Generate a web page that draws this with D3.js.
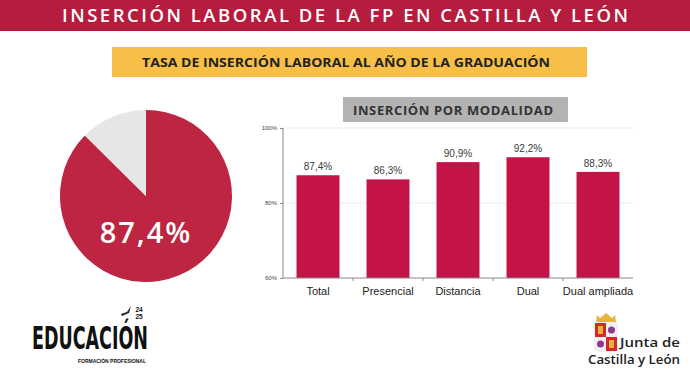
<!DOCTYPE html>
<html><head><meta charset="utf-8">
<script src="https://cdn.jsdelivr.net/npm/d3@7"></script>
<style>html,body{margin:0;padding:0;background:#fff;}svg{display:block;}</style>
</head><body>
<script>
const categories = ["Total","Presencial","Distancia","Dual","Dual ampliada"];
const values = [87.4, 86.3, 90.9, 92.2, 88.3];
const yTicks = [60, 80, 100];
const pieValue = 87.4;
const pieLabel = "87,4%";
const title = "INSERCIÓN LABORAL DE LA FP EN CASTILLA Y LEÓN";
const subtitle = "TASA DE INSERCIÓN LABORAL AL AÑO DE LA GRADUACIÓN";
const barTitle = "INSERCIÓN POR MODALIDAD";

const W = 690, H = 369;
const svg = d3.select("body").append("svg").attr("width", W).attr("height", H);
const fmt = v => v.toFixed(1).replace(".", ",") + "%";

// Header
svg.append("rect").attr("x",0).attr("y",0).attr("width",W).attr("height",31).attr("fill","#b51c3e");
svg.append("text").attr("x",345).attr("y",22).attr("text-anchor","middle")
  .attr("font-family","Open Sans").attr("font-weight",600).attr("font-size",18.5)
  .attr("fill","#fff").attr("textLength",566).attr("lengthAdjust","spacing").text(title);

// Yellow box
svg.append("rect").attr("x",112).attr("y",47).attr("width",475).attr("height",30).attr("fill","#f7bf47");
svg.append("text").attr("x",346).attr("y",67).attr("text-anchor","middle")
  .attr("font-family","Open Sans").attr("font-weight",700).attr("font-size",12.5)
  .attr("fill","#222").attr("textLength",408).attr("lengthAdjust","spacingAndGlyphs").text(subtitle);

// Gray box
svg.append("rect").attr("x",343).attr("y",97).attr("width",225).attr("height",25).attr("fill","#b3b3b3");
svg.append("text").attr("x",453).attr("y",115).attr("text-anchor","middle")
  .attr("font-family","Open Sans").attr("font-weight",700).attr("font-size",13)
  .attr("fill","#333").attr("textLength",200).attr("lengthAdjust","spacing").text(barTitle);

// Pie
const cx = 146, cy = 196, R = 86;
const pie = d3.pie().sort(null).value(d => d)([pieValue, 100 - pieValue]);
const arc = d3.arc().innerRadius(0).outerRadius(R);
const pg = svg.append("g").attr("transform",`translate(${cx},${cy})`);
pg.selectAll("path").data(pie).join("path").attr("d",arc)
  .attr("fill",(d,i)=> i===0 ? "#be2542" : "#e6e6e6");
pg.append("text").attr("x",0).attr("y",47).attr("text-anchor","middle")
  .attr("font-family","Open Sans").attr("font-weight",600).attr("font-size",29)
  .attr("letter-spacing",2).attr("fill","#fff").text(pieLabel);

// Bar chart
const x = d3.scaleBand().domain(categories).range([283,633]).paddingInner(0.386).paddingOuter(0.193);
const y = d3.scaleLinear().domain([60,100]).range([278,128]);
const g = svg.append("g");
g.selectAll("line.grid").data(yTicks.slice(1)).join("line").attr("class","grid")
  .attr("x1",283).attr("x2",633).attr("y1",d=>y(d)).attr("y2",d=>y(d))
  .attr("stroke","#ececec").attr("stroke-width",1);
g.selectAll("rect.bar").data(values).join("rect").attr("class","bar")
  .attr("x",(d,i)=>x(categories[i])).attr("width",x.bandwidth())
  .attr("y",d=>y(d)).attr("height",d=>y(60)-y(d)).attr("fill","#c41347");
g.selectAll("text.val").data(values).join("text").attr("class","val")
  .attr("x",(d,i)=>x(categories[i])+x.bandwidth()/2).attr("y",d=>y(d)-5)
  .attr("text-anchor","middle").attr("font-family","Liberation Sans, Arial").attr("font-size",10)
  .attr("fill","#3a3a3a").text(fmt);

const ya = svg.append("g").attr("transform","translate(283,0)")
  .call(d3.axisLeft(y).tickValues(yTicks).tickSize(3).tickFormat(d=>d+"%"));
ya.selectAll("path,line").attr("stroke","#888");
ya.selectAll("text").attr("font-family","Liberation Sans, Arial").attr("font-size",6).attr("fill","#444");
ya.select(".domain").attr("d","M0,128V278");

const xa = svg.append("g").attr("transform","translate(0,278)")
  .call(d3.axisBottom(x).tickSize(0).tickPadding(9));
xa.select(".domain").attr("stroke","#888").attr("d","M283,0H633");
xa.selectAll("text").attr("font-family","Liberation Sans, Arial").attr("font-size",11).attr("fill","#222");
const bounds = categories.slice(1).map(c => x(c) - x.step()*x.paddingInner()/2);
xa.selectAll("line.bt").data(bounds).join("line").attr("class","bt")
  .attr("x1",d=>d).attr("x2",d=>d).attr("y1",0).attr("y2",3).attr("stroke","#888");

// EDUCACIÓN logo
svg.append("text").attr("x",32).attr("y",349)
  .attr("font-family","Liberation Sans Narrow, DejaVu Sans Condensed, sans-serif").attr("font-weight",900)
  .attr("font-size",32).attr("fill","#111").attr("textLength",116).attr("lengthAdjust","spacingAndGlyphs").text("EDUCACIÓN");
svg.append("text").attr("x",139).attr("y",312).attr("text-anchor","middle")
  .attr("font-family","Liberation Sans Narrow, sans-serif").attr("font-weight",700).attr("font-size",6.5).attr("fill","#111").text("24");
svg.append("text").attr("x",139).attr("y",319).attr("text-anchor","middle")
  .attr("font-family","Liberation Sans Narrow, sans-serif").attr("font-weight",700).attr("font-size",6.5).attr("fill","#111").text("25");
svg.append("path").attr("d","M121,314 L127,312 L131,306 L129,313 L122,316 Z").attr("fill","#222");
svg.append("text").attr("x",78).attr("y",363)
  .attr("font-family","Liberation Sans, sans-serif").attr("font-weight",700).attr("font-size",5)
  .attr("fill","#111").attr("textLength",68).attr("lengthAdjust","spacingAndGlyphs").text("FORMACIÓN PROFESIONAL");

// Junta logo
const sg = svg.append("g");
sg.append("path").attr("d","M596,322 L597,315 L600,318 L606,313 L612,318 L615,315 L616,322 Z").attr("fill","#e8b53c");
sg.append("rect").attr("x",595).attr("y",323).attr("width",22).attr("height",28).attr("rx",2).attr("fill","#fff").attr("stroke","#bbb").attr("stroke-width",0.5);
sg.append("rect").attr("x",595).attr("y",323).attr("width",11).attr("height",14).attr("fill","#d8262e");
sg.append("rect").attr("x",606).attr("y",337).attr("width",11).attr("height",14).attr("fill","#d8262e");
sg.append("rect").attr("x",606).attr("y",323).attr("width",11).attr("height",14).attr("fill","#f2eef4");
sg.append("rect").attr("x",595).attr("y",337).attr("width",11).attr("height",14).attr("fill","#f2eef4");
sg.append("rect").attr("x",598).attr("y",326).attr("width",5).attr("height",8).attr("fill","#e8b53c");
sg.append("rect").attr("x",609).attr("y",340).attr("width",5).attr("height",8).attr("fill","#e8b53c");
sg.append("circle").attr("cx",611.5).attr("cy",330).attr("r",3.5).attr("fill","#8a3c8c");
sg.append("circle").attr("cx",600.5).attr("cy",344).attr("r",3.5).attr("fill","#8a3c8c");
svg.append("text").attr("x",620).attr("y",347)
  .attr("font-family","Open Sans").attr("font-weight",600).attr("font-size",12)
  .attr("fill","#222").attr("textLength",60).attr("lengthAdjust","spacingAndGlyphs").text("Junta de");
svg.append("text").attr("x",588).attr("y",364)
  .attr("font-family","Open Sans").attr("font-weight",600).attr("font-size",12)
  .attr("fill","#222").attr("textLength",92).attr("lengthAdjust","spacingAndGlyphs").text("Castilla y León");
</script>
</body></html>
